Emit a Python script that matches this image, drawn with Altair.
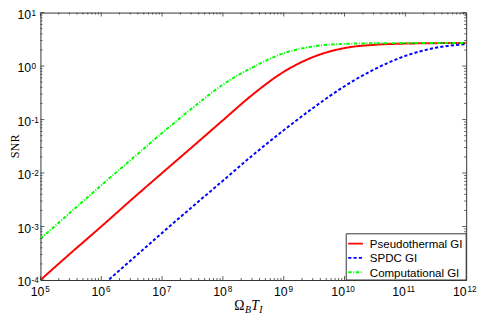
import altair as alt
import pandas as pd

# ---- data ----
x_vals = [1e5, 3.16e5, 1e6, 3.16e6, 1e7, 3.16e7, 1e8, 3.16e8, 1e9, 3.16e9,
          1e10, 3.16e10, 1e11, 3.16e11, 1e12]
pseudothermal = [1.0e-4, 3.2e-4, 1.0e-3, 3.2e-3, 1.0e-2, 3.1e-2, 0.097, 0.30,
                 0.78, 1.50, 2.17, 2.50, 2.63, 2.68, 2.70]
computational = [5.9e-4, 1.86e-3, 5.9e-3, 1.82e-2, 5.6e-2, 0.165, 0.45, 0.96,
                 1.74, 2.34, 2.60, 2.67, 2.69, 2.70, 2.70]
spdc_x = [1e6, 3.16e6, 1e7, 3.16e7, 1e8, 3.16e8, 1e9, 3.16e9,
          1e10, 3.16e10, 1e11, 3.16e11, 1e12]
spdc = [7.6e-5, 2.4e-4, 7.6e-4, 2.35e-3, 7.2e-3, 2.2e-2, 6.3e-2, 0.17,
        0.42, 0.88, 1.55, 2.20, 2.57]

series_names = ["Pseudothermal GI", "SPDC GI", "Computational GI"]
series_colors = ["#ff0000", "#0000ff", "#00ff00"]
series_dashes = [[1, 0], [3.2, 2.2], [3.5, 1.6, 1, 1.6]]

x_major_1 = [1e5, 1e6, 1e7, 1e8, 1e9]
x_exps_1 = ["5", "6", "7", "8", "9"]
x_major_2 = [1e10, 1e11, 1e12]
x_exps_2 = ["10", "11", "12"]
y_major = [1e-4, 1e-3, 1e-2, 1e-1, 1e0, 1e1]
y_exps = ["-4", "-3", "-2", "-1", "0", "1"]
x_major = x_major_1 + x_major_2
x_minor = [k * 10.0 ** n for n in range(5, 12) for k in range(2, 10)]
y_minor = [k * 10.0 ** n for n in range(-4, 1) for k in range(2, 10)]

W, H = 433, 272
AX = "#333333"
SANS = "Liberation Sans"
SERIF = "Liberation Serif"

xs = alt.Scale(type="log", domain=[1e5, 1e12], nice=False)
ys = alt.Scale(type="log", domain=[1e-4, 10], nice=False)

rows = []
for name, xv, yv in [("Pseudothermal GI", x_vals, pseudothermal),
                     ("SPDC GI", spdc_x, spdc),
                     ("Computational GI", x_vals, computational)]:
    for a, b in zip(xv, yv):
        rows.append({"x": a, "snr": b, "series": name})
df = pd.DataFrame(rows)

lines = alt.Chart(df).mark_line(strokeWidth=2, clip=True, interpolate="monotone").encode(
    x=alt.X("x:Q", scale=xs, axis=None),
    y=alt.Y("snr:Q", scale=ys, axis=None),
    color=alt.Color("series:N", scale=alt.Scale(domain=series_names, range=series_colors),
                    legend=None),
    strokeDash=alt.StrokeDash("series:N", scale=alt.Scale(domain=series_names, range=series_dashes),
                              legend=None),
)

def xticks(vals, length):
    d = pd.DataFrame({"t": vals})
    bot = alt.Chart(d).mark_rule(color=AX, strokeWidth=0.8).encode(
        x=alt.X("t:Q", scale=xs, axis=None), y=alt.value(H), y2=alt.value(H - length))
    top = alt.Chart(d).mark_rule(color=AX, strokeWidth=0.8).encode(
        x=alt.X("t:Q", scale=xs, axis=None), y=alt.value(0), y2=alt.value(length))
    return [bot, top]

def yticks(vals, length):
    d = pd.DataFrame({"t": vals})
    lft = alt.Chart(d).mark_rule(color=AX, strokeWidth=0.8).encode(
        y=alt.Y("t:Q", scale=ys, axis=None), x=alt.value(0), x2=alt.value(length))
    rgt = alt.Chart(d).mark_rule(color=AX, strokeWidth=0.8).encode(
        y=alt.Y("t:Q", scale=ys, axis=None), x=alt.value(W), x2=alt.value(W - length))
    return [lft, rgt]

ticks = xticks(x_major, 4) + xticks(x_minor, 2) + yticks(y_major, 4) + yticks(y_minor, 2)

def xlabels(vals, exps, dx_ten, dx_exp):
    d = pd.DataFrame({"t": vals, "e": exps})
    ten = alt.Chart(d).mark_text(align="right", baseline="alphabetic", dx=dx_ten,
                                 font=SANS, fontSize=12.5, color="black").encode(
        x=alt.X("t:Q", scale=xs, axis=None), y=alt.value(H + 16.3), text=alt.value("10"))
    ex = alt.Chart(d).mark_text(align="left", baseline="alphabetic", dx=dx_exp,
                                font=SANS, fontSize=8.3, color="black").encode(
        x=alt.X("t:Q", scale=xs, axis=None), y=alt.value(H + 11.8), text="e:N")
    return [ten, ex]

xlabs = xlabels(x_major_1, x_exps_1, 4, 4.8) + xlabels(x_major_2, x_exps_2, 0.5, 1.3)

ylab_df = pd.DataFrame({"t": y_major, "e": y_exps})
y_ten = alt.Chart(ylab_df).mark_text(align="right", baseline="alphabetic", dy=6.5,
                                     font=SANS, fontSize=12.5, color="black").encode(
    y=alt.Y("t:Q", scale=ys, axis=None), x=alt.value(-9.5), text=alt.value("10"))
y_exp = alt.Chart(ylab_df).mark_text(align="left", baseline="alphabetic", dy=3.2,
                                     font=SANS, fontSize=8.3, color="black").encode(
    y=alt.Y("t:Q", scale=ys, axis=None), x=alt.value(-9), text="e:N")

one = pd.DataFrame({"a": [0]})
def label(txt, x, y, size, style="normal", font=SERIF, angle=0, align="left", baseline="alphabetic"):
    return alt.Chart(one).mark_text(align=align, baseline=baseline, font=font, fontSize=size,
                                    fontStyle=style, angle=angle, color="black").encode(
        x=alt.value(x), y=alt.value(y), text=alt.value(txt))

titles = [
    label("Ω", 197, H + 31, 14),
    label("B", 208, H + 34, 10, "italic"),
    label("T", 214.5, H + 31, 14, "italic"),
    label("I", 222.5, H + 34, 10, "italic"),
    label("SNR", -26, H / 2, 12.5, angle=270, align="center", baseline="middle"),
]

# ---- legend box (bottom-right, inside the axes) ----
LX0, LX1, LY0, LY1 = 311, W, 225, H
legend_box = alt.Chart(one).mark_rect(fill="white", stroke=AX, strokeWidth=1).encode(
    x=alt.value(LX0), x2=alt.value(LX1), y=alt.value(LY0), y2=alt.value(LY1))
legend_items = []
for i, (nm, col, dash) in enumerate(zip(series_names, series_colors, series_dashes)):
    yy = 235 + i * 14.5
    legend_items.append(alt.Chart(one).mark_rule(color=col, strokeWidth=2, strokeDash=dash).encode(
        x=alt.value(LX0 + 2), x2=alt.value(LX0 + 17), y=alt.value(yy)))
    legend_items.append(alt.Chart(one).mark_text(align="left", baseline="middle", font=SANS,
                                                 fontSize=11.7, color="black").encode(
        x=alt.value(LX0 + 24), y=alt.value(yy + 0.5), text=alt.value(nm)))

chart = alt.layer(lines, *ticks, *xlabs, y_ten, y_exp, *titles, legend_box, *legend_items).properties(
    width=W, height=H,
    autosize=alt.AutoSizeParams(type="none"),
    padding={"left": 33, "top": 2, "right": 11, "bottom": 37},
).configure_view(stroke=AX, strokeWidth=1)

chart.save("out.html", embed_options={"renderer": "svg", "actions": False})
